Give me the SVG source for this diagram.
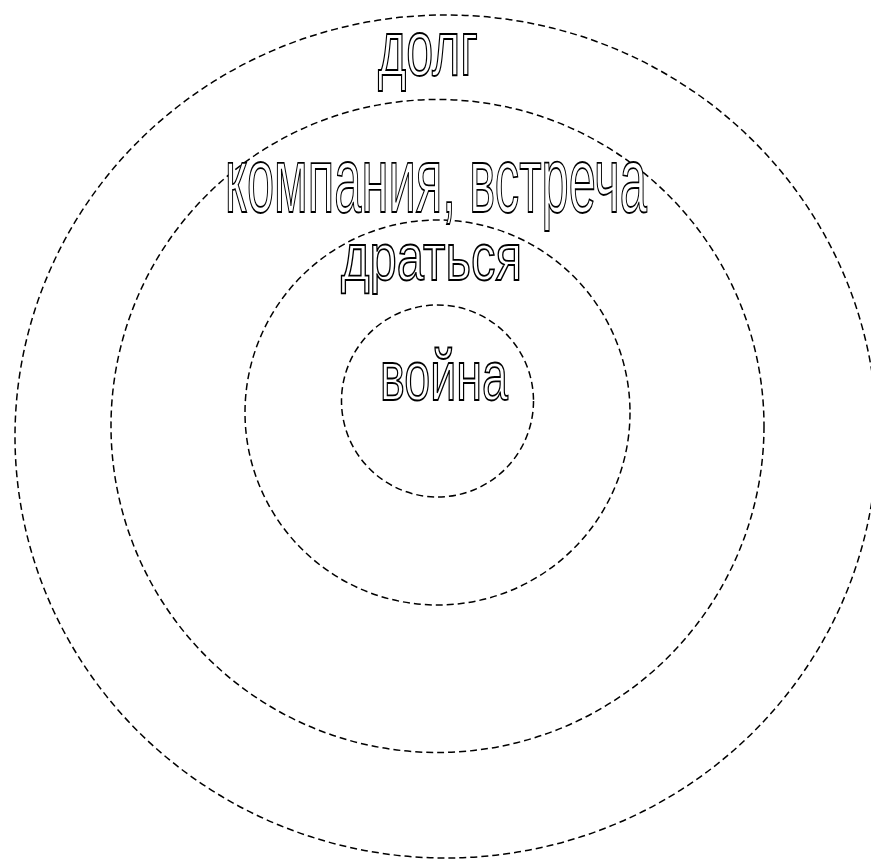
<svg xmlns="http://www.w3.org/2000/svg" width="871" height="859" viewBox="0 0 871 859">
<style>
.ring{fill:none;stroke:#000;stroke-width:1.5;stroke-dasharray:7 4}
.lbl{font-family:"Liberation Sans",Arial,sans-serif;fill:#fff;stroke:#000;stroke-width:1.8;text-anchor:start}
</style>
<rect width="871" height="859" fill="#fff"/>
<g id="connectors"></g>
<g id="ring-outer"><ellipse class="ring" cx="446" cy="436.5" rx="431" ry="421.5"/></g>
<g id="ring-2"><circle class="ring" cx="437.5" cy="426" r="326.5"/></g>
<g id="ring-3"><circle class="ring" cx="437.5" cy="412.5" r="192.5"/></g>
<g id="ring-inner"><circle class="ring" cx="437.5" cy="401" r="96"/></g>
<g id="node-dolg"><text class="lbl" x="378" y="75" font-size="77" textLength="100" lengthAdjust="spacingAndGlyphs">долг</text></g>
<g id="node-kompaniya"><text class="lbl" x="225" y="212" font-size="93" textLength="422" lengthAdjust="spacingAndGlyphs">компания, встреча</text></g>
<g id="node-dratsya"><text class="lbl" x="341" y="280" font-size="67" textLength="181" lengthAdjust="spacingAndGlyphs">драться</text></g>
<g id="node-voyna"><text class="lbl" x="380" y="400" font-size="71" textLength="128" lengthAdjust="spacingAndGlyphs">война</text></g>
</svg>
